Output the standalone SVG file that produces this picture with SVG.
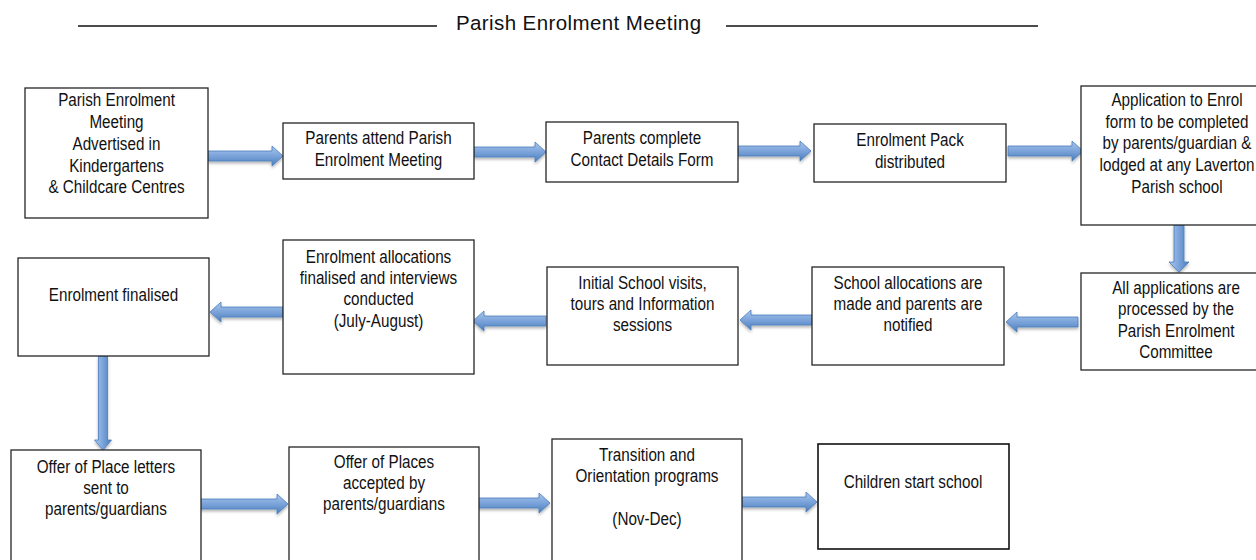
<svg xmlns="http://www.w3.org/2000/svg" width="1256" height="560" viewBox="0 0 1256 560">
<defs>
<style>
.box{fill:#ffffff;stroke:#262626;stroke-width:1.3}
.t{font-family:"Liberation Sans",Arial,sans-serif;font-size:17.5px;fill:#111;text-anchor:middle;transform-box:fill-box;transform-origin:center;transform:scaleX(0.87)}
.title{font-family:"Liberation Sans",Arial,sans-serif;font-size:20.5px;letter-spacing:0.4px;fill:#111}
.rule{stroke:#111;stroke-width:1.6}
.ah{fill:url(#gh);stroke:#4a7ebb;stroke-width:0.8;filter:url(#sh)}
.av{fill:url(#gv);stroke:#4a7ebb;stroke-width:0.8;filter:url(#sh)}
</style>
<linearGradient id="gh" x1="0" y1="0" x2="0" y2="1">
<stop offset="0" stop-color="#a9c6ec"/>
<stop offset="0.5" stop-color="#7ba3da"/>
<stop offset="1" stop-color="#4a7ebb"/>
</linearGradient>
<linearGradient id="gv" x1="0" y1="0" x2="1" y2="0">
<stop offset="0" stop-color="#a9c6ec"/>
<stop offset="0.5" stop-color="#7ba3da"/>
<stop offset="1" stop-color="#4a7ebb"/>
</linearGradient>
<filter id="sh" x="-20%" y="-40%" width="140%" height="180%">
<feDropShadow dx="0" dy="2" stdDeviation="1.5" flood-color="#000" flood-opacity="0.3"/>
</filter>
</defs>

<g id="title">
<line class="rule" x1="78" y1="26" x2="437" y2="26"/>
<text class="title" x="456" y="30">Parish Enrolment Meeting</text>
<line class="rule" x1="726" y1="26" x2="1038" y2="26"/>
</g>

<g id="connectors">
<path class="ah" d="M208,151 H272 V146 L283,156 L272,166 V161 H208 Z"/>
<path class="ah" d="M474,147 H535 V142 L546,152 L535,162 V157 H474 Z"/>
<path class="ah" d="M738,146 H800 V141 L811,151 L800,161 V156 H738 Z"/>
<path class="ah" d="M1008,146 H1072 V141 L1083,151 L1072,161 V156 H1008 Z"/>
<path class="av" d="M1174,225 V262 H1169 L1179,272 L1189,262 H1184 V225 Z"/>
<path class="ah" d="M1078,317 H1017 V312 L1006,322 L1017,332 V327 H1078 Z"/>
<path class="ah" d="M812,315 H751 V310 L740,320 L751,330 V325 H812 Z"/>
<path class="ah" d="M546,316 H484 V311 L473,321 L484,331 V326 H546 Z"/>
<path class="ah" d="M283,307 H221 V302 L210,312 L221,322 V317 H283 Z"/>
<path class="av" d="M98.5,356 V440 H94.5 L103,450 L111.5,440 H107.5 V356 Z"/>
<path class="ah" d="M199,499 H277 V494 L288,504 L277,514 V509 H199 Z"/>
<path class="ah" d="M477,498 H539 V493 L550,503 L539,513 V508 H477 Z"/>
<path class="ah" d="M742,497 H806 V492 L817,502 L806,512 V507 H742 Z"/>
</g>

<g id="n1">
<rect class="box" x="25" y="88" width="183" height="130"/>
<text class="t" x="116.5" y="106">Parish Enrolment</text>
<text class="t" x="116.5" y="128">Meeting</text>
<text class="t" x="116.5" y="150">Advertised in</text>
<text class="t" x="116.5" y="172">Kindergartens</text>
<text class="t" x="116.5" y="193">&amp; Childcare Centres</text>
</g>
<g id="n2">
<rect class="box" x="283" y="123" width="191" height="56"/>
<text class="t" x="378.5" y="144.5">Parents attend Parish</text>
<text class="t" x="378.5" y="166.5">Enrolment Meeting</text>
</g>
<g id="n3">
<rect class="box" x="546" y="122" width="192" height="60"/>
<text class="t" x="642" y="144.5">Parents complete</text>
<text class="t" x="642" y="166.5">Contact Details Form</text>
</g>
<g id="n4">
<rect class="box" x="814" y="124" width="192" height="58"/>
<text class="t" x="910" y="146.5">Enrolment Pack</text>
<text class="t" x="910" y="168.5">distributed</text>
</g>
<g id="n5">
<rect class="box" x="1081" y="86" width="192" height="139"/>
<text class="t" x="1177" y="106.5">Application to Enrol</text>
<text class="t" x="1177" y="128.5">form to be completed</text>
<text class="t" x="1177" y="149.5">by parents/guardian &amp;</text>
<text class="t" x="1177" y="171.5">lodged at any Laverton</text>
<text class="t" x="1177" y="193.5">Parish school</text>
</g>
<g id="n6">
<rect class="box" x="1081" y="273" width="192" height="97"/>
<text class="t" x="1176" y="294.5">All applications are</text>
<text class="t" x="1176" y="315.5">processed by the</text>
<text class="t" x="1176" y="337.5">Parish Enrolment</text>
<text class="t" x="1176" y="358.5">Committee</text>
</g>
<g id="n7">
<rect class="box" x="812" y="267" width="192" height="98"/>
<text class="t" x="908" y="289.5">School allocations are</text>
<text class="t" x="908" y="310.5">made and parents are</text>
<text class="t" x="908" y="331.5">notified</text>
</g>
<g id="n8">
<rect class="box" x="547" y="267" width="191" height="98"/>
<text class="t" x="642.5" y="289.5">Initial School visits,</text>
<text class="t" x="642.5" y="310.5">tours and Information</text>
<text class="t" x="642.5" y="331.5">sessions</text>
</g>
<g id="n9">
<rect class="box" x="283" y="240" width="191" height="134"/>
<text class="t" x="378.5" y="263.5">Enrolment allocations</text>
<text class="t" x="378.5" y="284.5">finalised and interviews</text>
<text class="t" x="378.5" y="305.5">conducted</text>
<text class="t" x="378.5" y="327.5">(July-August)</text>
</g>
<g id="n10">
<rect class="box" x="18" y="258" width="191" height="98"/>
<text class="t" x="113.5" y="301.5">Enrolment finalised</text>
</g>
<g id="n11">
<rect class="box" x="11" y="450" width="190" height="130"/>
<text class="t" x="106" y="473.5">Offer of Place letters</text>
<text class="t" x="106" y="494.5">sent to</text>
<text class="t" x="106" y="515.5">parents/guardians</text>
</g>
<g id="n12">
<rect class="box" x="289" y="447" width="190" height="130"/>
<text class="t" x="384" y="468.5">Offer of Places</text>
<text class="t" x="384" y="489.5">accepted by</text>
<text class="t" x="384" y="510.5">parents/guardians</text>
</g>
<g id="n13">
<rect class="box" x="552" y="439" width="190" height="140"/>
<text class="t" x="647" y="461.5">Transition and</text>
<text class="t" x="647" y="482.5">Orientation programs</text>
<text class="t" x="647" y="525.5">(Nov-Dec)</text>
</g>
<g id="n14">
<rect class="box" x="818" y="444" width="191" height="105" style="stroke:#111;stroke-width:1.6"/>
<text class="t" x="913" y="488.5">Children start school</text>
</g>
</svg>
